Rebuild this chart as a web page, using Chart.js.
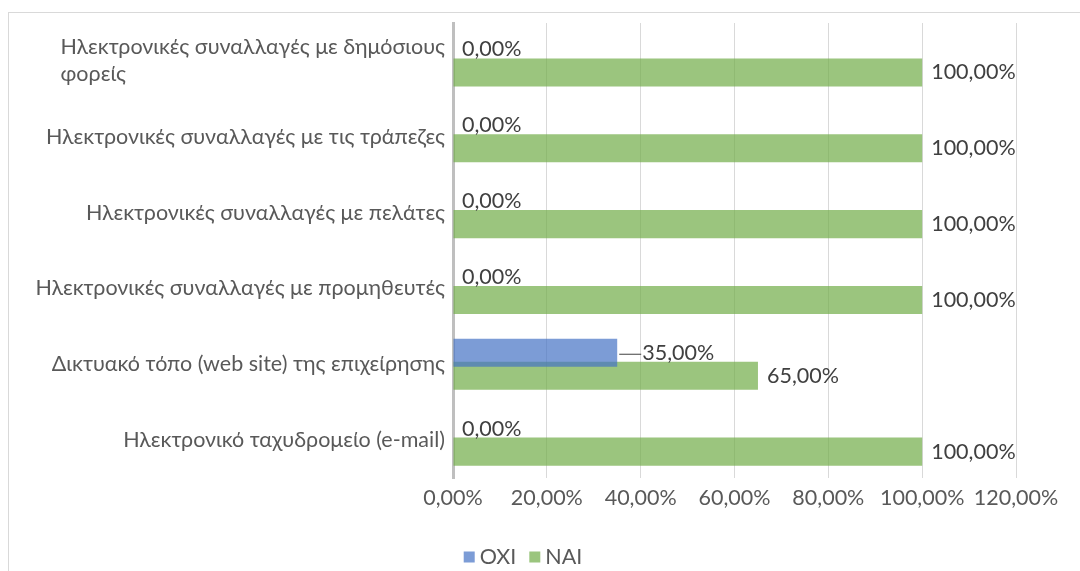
<!DOCTYPE html>
<html>
<head>
<meta charset="utf-8">
<script src="https://cdn.jsdelivr.net/npm/chart.js@4"></script>
<style>
  html, body { margin: 0; padding: 0; background: #fff; overflow: hidden; }
  #frame { position: absolute; left: 8px; top: 12px; width: 1200px; height: 700px; border: 1px solid #d9d9d9; }
  #wrap { position: absolute; left: 0; top: 0; width: 1080px; height: 571px; }
</style>
</head>
<body>
<div id="frame"></div>
<div id="wrap"><canvas id="chart" width="1080" height="571"></canvas></div>
<script>
// categories, top to bottom
const categories = [
    ['Ηλεκτρονικές συναλλαγές με δημόσιους', 'φορείς'],
    'Ηλεκτρονικές συναλλαγές με τις τράπεζες',
    'Ηλεκτρονικές συναλλαγές με πελάτες',
    'Ηλεκτρονικές συναλλαγές με προμηθευτές',
    'Δικτυακό τόπο (web site) της επιχείρησης',
    'Ηλεκτρονικό ταχυδρομείο (e-mail)'
];
const seriesNames = ['ΟΧΙ', 'ΝΑΙ'];
const oxiValues = [0, 0, 0, 0, 35, 0];
const naiValues = [100, 100, 100, 100, 65, 100];
const xTicks = [0, 20, 40, 60, 80, 100, 120];

const FONT = 'Lato, Roboto, sans-serif';
const SIZE = 21.5;
const blue = 'rgba(68, 114, 196, 0.7)';
const green = 'rgba(112, 173, 71, 0.7)';

function fmt(v) {
    return Number(v).toFixed(2).replace('.', ',') + '%';
}

// y category labels: right-aligned block, lines left-aligned inside the block
const categoryLabels = {
    id: 'categoryLabels',
    afterDraw(chart) {
        const ctx = chart.ctx;
        const y = chart.scales.y;
        const right = chart.chartArea.left - 8;
        const lh = 27;
        ctx.save();
        ctx.font = SIZE + 'px ' + FONT;
        ctx.fillStyle = '#595959';
        ctx.textBaseline = 'middle';
        ctx.textAlign = 'left';
        categories.forEach((label, i) => {
            const lines = Array.isArray(label) ? label : [label];
            const w = Math.max(...lines.map(l => ctx.measureText(l).width));
            const cy = y.getPixelForValue(i);
            const top = cy - (lines.length - 1) * lh / 2;
            lines.forEach((l, k) => ctx.fillText(l, right - w, top + k * lh));
        });
        ctx.restore();
    }
};

// value labels at the end of each bar
const valueLabels = {
    id: 'valueLabels',
    afterDatasetsDraw(chart) {
        const ctx = chart.ctx;
        ctx.save();
        ctx.font = SIZE + 'px ' + FONT;
        ctx.fillStyle = '#404040';
        ctx.strokeStyle = '#404040';
        ctx.lineWidth = 1;
        ctx.textBaseline = 'middle';
        ctx.textAlign = 'left';
        chart.data.datasets.forEach((ds, d) => {
            chart.getDatasetMeta(d).data.forEach((bar, i) => {
                const v = ds.data[i];
                let x = bar.x + 9;
                if (ds.leader && v > 0) {
                    ctx.beginPath();
                    ctx.moveTo(bar.x + 2, bar.y + 1.5);
                    ctx.lineTo(bar.x + 24, bar.y + 1.5);
                    ctx.stroke();
                    x = bar.x + 25;
                }
                ctx.fillText(fmt(v), x, bar.y);
            });
        });
        ctx.restore();
    }
};

// legend below the x axis
const bottomLegend = {
    id: 'bottomLegend',
    afterDraw(chart) {
        const ctx = chart.ctx;
        const cx = 523, cy = 557, box = 11, gap = 5, space = 13;
        ctx.save();
        ctx.font = SIZE + 'px ' + FONT;
        ctx.textBaseline = 'middle';
        ctx.textAlign = 'left';
        const items = chart.data.datasets.map(ds => ({ text: ds.label, color: ds.backgroundColor, w: box + gap + ctx.measureText(ds.label).width }));
        const total = items.reduce((s, it) => s + it.w, 0) + space * (items.length - 1);
        let x = cx - total / 2;
        items.forEach(it => {
            ctx.fillStyle = it.color;
            ctx.fillRect(x, cy - box / 2, box, box);
            ctx.fillStyle = '#595959';
            ctx.fillText(it.text, x + box + gap, cy);
            x += it.w + space;
        });
        ctx.restore();
    }
};

new Chart(document.getElementById('chart').getContext('2d'), {
    type: 'bar',
    data: {
        labels: categories,
        datasets: [
            { label: seriesNames[0], data: oxiValues, backgroundColor: blue, leader: true },
            { label: seriesNames[1], data: naiValues, backgroundColor: green }
        ]
    },
    options: {
        indexAxis: 'y',
        responsive: false,
        animation: false,
        categoryPercentage: 0.607,
        barPercentage: 1.22,
        layout: { padding: { top: 23, right: 64, bottom: 53, left: 0 } },
        plugins: { legend: { display: false }, tooltip: { enabled: false } },
        scales: {
            x: {
                min: 0,
                max: 120,
                afterBuildTicks: s => { s.ticks = xTicks.map(v => ({ value: v })); },
                ticks: { callback: v => fmt(v), color: '#595959', font: { family: FONT, size: SIZE }, padding: 7 },
                grid: { color: '#d9d9d9', drawTicks: false },
                border: { display: false },
                afterFit: s => { s.height = 40; }
            },
            y: {
                ticks: { display: false },
                grid: { display: false },
                border: { color: '#bfbfbf', width: 3 },
                afterFit: s => { s.width = 453; }
            }
        }
    },
    plugins: [categoryLabels, valueLabels, bottomLegend]
});
</script>
</body>
</html>
